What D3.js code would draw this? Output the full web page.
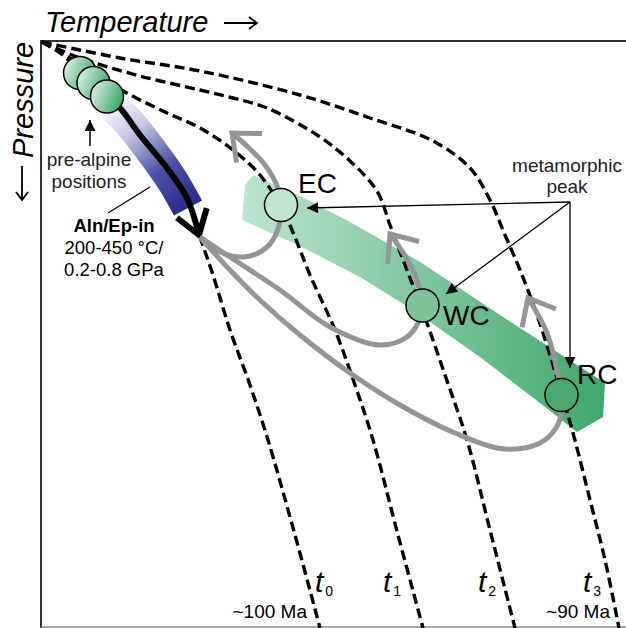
<!DOCTYPE html>
<html>
<head>
<meta charset="utf-8">
<script src="https://cdn.jsdelivr.net/npm/d3@7"></script>
<style>
body { margin: 0; background: #fff; }
svg { display: block; font-family: "Liberation Sans", Arial, sans-serif; }
</style>
</head>
<body>
<svg id="chart" width="626" height="628"></svg>
<script>
// schematic P-T space, arbitrary units: T to the right, P downwards, 0 = top-left corner
const isoNames = ['0', '1', '2', '3']
const isoT0 = [[0.2,0.2],[3.8,2.4],[7.8,6],[10.4,8.4],[13.2,11],[15.8,13.4],[19.8,18.8],[25.2,25.4],[29.2,31.4],[31.8,39.2],[34.4,46.8],[37.8,57.8],[41.8,68.8],[45.4,79.8],[50.8,98.8],[55.8,117.4]]
const isoT1 = [[0.2,0.2],[3.8,2.2],[9.8,5.8],[16.8,10.2],[24.8,14.2],[31.8,17.4],[38.4,21.8],[43.8,26.8],[47.8,32.8],[50.2,37.8],[53.8,46.8],[58.8,57.8],[62.8,68.8],[66.4,79.8],[71.4,98.8],[76.4,117.4]]
const isoT2 = [[0.2,0.2],[7.8,3.4],[19.8,7],[31.8,9.8],[38.4,11.4],[45.2,13.4],[55.2,18.8],[61.8,24],[67.2,30],[69.8,36.8],[72.8,44.8],[76.4,54.2],[80.8,66.8],[85.2,79.8],[89.8,97.8],[94.8,117.4]]
const isoT3 = [[0.2,0.2],[15.8,3.4],[31.8,6],[51.8,10.8],[65.8,15.4],[78.4,20],[85.8,25.4],[89.8,31.8],[92.8,38.8],[95.8,45.8],[99.2,54.8],[102.4,64.8],[106.4,78.4],[109.8,91.8],[112.8,103.8],[115.6,117.4]]
const isoLabelT = [54.8, 68.4, 87.4, 108.4]
const isoLabelP = 110.2
const ageLabels = ['~100 Ma', '~90 Ma']
const ageT = [53.2, 113.8]
const ageP = 115.4

// pre-alpine positions and Aln/Ep-in field
const preAlpine = [[7.8,6.4],[10.5,8.4],[13.2,11.1]]
const alnBand = [[13.4,12],[18.2,17],[22.4,22.4],[26.2,27.8],[29.4,33.4]]
const burialPath = [[13.8,11.8],[15.8,13.4],[19.8,18.8],[25.2,25.4],[29.2,31.4],[31.6,38.8]]
const alnText = ['Aln/Ep-in', '200-450 °C/', '0.2-0.8 GPa']
const alnTextPos = [[14.6,38.2],[14.6,42.6],[14.6,47]]

// metamorphic peak field and P-T loops
const peakField = [[42.4,26.8],[51.8,31],[61.8,36.2],[75.8,44.2],[91.8,54.8],[112.8,68.4],[112.4,75.2],[107.2,78.2],[99.8,72.4],[87.8,63.2],[74.4,53.8],[63.8,47.2],[51.8,41],[40.2,35.8],[40.8,28.8]]
const units = ['EC', 'WC', 'RC']
const peaks = [[48,32.8],[76.3,52.9],[104.1,70.8]]
const unitLabelPos = [[51.4,30.4],[80.4,56.8],[107.2,68.6]]
const loopEC = [[31.8,39.2],[36.8,42.6],[41.8,43],[45.8,40.6],[47.8,36.2],[48,32.8],[47.4,29.4],[44.8,24.8],[41.4,21.2],[38.2,18.4]]
const loopWC = [[31.8,39.2],[37.8,43.2],[47.8,49.8],[57.8,57.2],[67.8,60.8],[73.2,59.2],[75.4,56.4],[76.4,53],[75.8,49.8],[74.2,45.4],[71.8,41.4],[69.8,38.6]]
const loopRC = [[31.8,39.2],[37.4,45.4],[44.2,52.2],[51.8,58.8],[61.8,66.4],[71.8,72.8],[82.8,78.4],[92.8,81.6],[99.8,80.4],[103,77.4],[104.2,73.8],[104.2,70.8],[103.4,66.8],[101.2,58.4],[97.4,51.4]]
const peakNote = [105.8, 32.2]
const peakNoteTips = [[53.2,33.4],[81,50.6],[105.8,65.4]]

const svg = d3.select('#chart')
const x = d3.scaleLinear().domain([0, 117]).range([41, 626])
const y = d3.scaleLinear().domain([0, 117.2]).range([41, 627])
const line = d3.line().x(d => x(d[0])).y(d => y(d[1])).curve(d3.curveCatmullRom.alpha(0.5))
const gray = '#939598'

const defs = svg.append('defs')
const gBand = defs.append('linearGradient').attr('id', 'gband')
    .attr('gradientUnits', 'userSpaceOnUse')
    .attr('x1', x(40)).attr('y1', 0).attr('x2', x(113)).attr('y2', 0)
gBand.append('stop').attr('offset', 0).attr('stop-color', '#bde5cf')
gBand.append('stop').attr('offset', 1).attr('stop-color', '#3fa76c')
const bBand = defs.append('linearGradient').attr('id', 'bband')
    .attr('gradientUnits', 'userSpaceOnUse')
    .attr('x1', x(alnBand[0][0])).attr('y1', y(alnBand[0][1]))
    .attr('x2', x(alnBand[4][0])).attr('y2', y(alnBand[4][1]))
bBand.append('stop').attr('offset', 0).attr('stop-color', '#ffffff')
bBand.append('stop').attr('offset', 0.3).attr('stop-color', '#c3c5e3')
bBand.append('stop').attr('offset', 0.65).attr('stop-color', '#4d51a8')
bBand.append('stop').attr('offset', 1).attr('stop-color', '#282c8b')
const cGrad = defs.append('linearGradient').attr('id', 'cgrad')
    .attr('x1', 0).attr('y1', 0.2).attr('x2', 1).attr('y2', 0.6)
cGrad.append('stop').attr('offset', 0).attr('stop-color', '#e2f3e7')
cGrad.append('stop').attr('offset', 1).attr('stop-color', '#36a567')
defs.append('marker').attr('id', 'tri')
    .attr('viewBox', '0 0 10 10').attr('refX', 10).attr('refY', 5)
    .attr('markerWidth', 14).attr('markerHeight', 11)
    .attr('markerUnits', 'userSpaceOnUse').attr('orient', 'auto')
    .append('path').attr('d', 'M0,0 L10,5 L0,10 Z').attr('fill', '#000')

// open chevron at the end of a path
function chevron(pts, len, half) {
    const a = pts[pts.length - 2], b = pts[pts.length - 1]
    const tx = x(b[0]), ty = y(b[1])
    const ang = Math.atan2(y(a[1]) - ty, x(a[0]) - tx)
    const h = half * Math.PI / 180
    return `M${tx + len * Math.cos(ang - h)},${ty + len * Math.sin(ang - h)}L${tx},${ty}L${tx + len * Math.cos(ang + h)},${ty + len * Math.sin(ang + h)}`
}

// frame
svg.append('line').attr('x1', 41).attr('x2', 626).attr('y1', 41).attr('y2', 41)
    .attr('stroke', '#333').attr('stroke-width', 2)
svg.append('line').attr('x1', 41).attr('x2', 41).attr('y1', 40).attr('y2', 628)
    .attr('stroke', '#333').attr('stroke-width', 2)
svg.append('line').attr('x1', 41).attr('x2', 626).attr('y1', 627).attr('y2', 627)
    .attr('stroke', '#8a8a8a').attr('stroke-width', 1.5)

// axis titles
svg.append('text').attr('x', 45).attr('y', 32)
    .attr('font-size', 29).attr('font-style', 'italic').text('Temperature')
svg.append('path').attr('d', 'M224,23H257M249,17L257,23L249,29')
    .attr('fill', 'none').attr('stroke', '#000').attr('stroke-width', 1.8)
svg.append('text').attr('transform', 'translate(33,158) rotate(-90)')
    .attr('font-size', 29).attr('font-style', 'italic').text('Pressure')
svg.append('path').attr('d', 'M22,166V200M16,192L22,200L28,192')
    .attr('fill', 'none').attr('stroke', '#000').attr('stroke-width', 1.8)

// peak field
svg.append('path').attr('d', 'M' + peakField.map(d => [x(d[0]), y(d[1])].join(',')).join('L') + 'Z')
    .attr('fill', 'url(#gband)')

// isochrons
svg.selectAll('.iso').data([isoT0, isoT1, isoT2, isoT3]).join('path')
    .attr('class', 'iso')
    .attr('d', line)
    .attr('fill', 'none').attr('stroke', '#000')
    .attr('stroke-width', 3.4).attr('stroke-dasharray', '10,5')

// Aln/Ep-in band and burial arrow
svg.append('path').attr('d', line(alnBand))
    .attr('fill', 'none').attr('stroke', 'url(#bband)').attr('stroke-width', 32)
svg.append('path').attr('d', line(burialPath.slice(0, -1).concat([[31.4, 38]])))
    .attr('fill', 'none').attr('stroke', '#000').attr('stroke-width', 6)
svg.append('path').attr('d', chevron(burialPath, 28, 34))
    .attr('fill', 'none').attr('stroke', '#000').attr('stroke-width', 6)

// exhumation loops
const loops = [loopEC, loopWC, loopRC]
svg.selectAll('.loop').data(loops).join('path')
    .attr('class', 'loop').attr('d', line)
    .attr('fill', 'none').attr('stroke', gray).attr('stroke-width', 5)
svg.selectAll('.head').data(loops).join('path')
    .attr('class', 'head').attr('d', d => chevron(d, 30, 40))
    .attr('fill', 'none').attr('stroke', gray).attr('stroke-width', 5)

// circles
svg.selectAll('.pre').data(preAlpine).join('circle')
    .attr('class', 'pre')
    .attr('cx', d => x(d[0])).attr('cy', d => y(d[1])).attr('r', 16.5)
    .attr('fill', 'url(#cgrad)').attr('stroke', '#000').attr('stroke-width', 1.5)
svg.selectAll('.peak').data(peaks).join('circle')
    .attr('class', 'peak')
    .attr('cx', d => x(d[0])).attr('cy', d => y(d[1])).attr('r', 16.5)
    .attr('fill', (d, i) => ['#c4e4d0', '#7fc198', '#48a972'][i])
    .attr('stroke', '#000').attr('stroke-width', 1.5)

// metamorphic peak pointers
svg.selectAll('.ptr').data(peakNoteTips).join('line')
    .attr('class', 'ptr')
    .attr('x1', x(peakNote[0])).attr('y1', y(peakNote[1]))
    .attr('x2', d => x(d[0])).attr('y2', d => y(d[1]))
    .attr('stroke', '#000').attr('stroke-width', 1.3).attr('marker-end', 'url(#tri)')
svg.append('text').attr('x', x(105.2)).attr('y', y(26.2))
    .attr('text-anchor', 'middle').attr('font-size', 19).attr('fill', '#222').text('metamorphic')
svg.append('text').attr('x', x(105.2)).attr('y', y(30.4))
    .attr('text-anchor', 'middle').attr('font-size', 19).attr('fill', '#222').text('peak')

// unit labels
svg.selectAll('.unit').data(units).join('text')
    .attr('class', 'unit')
    .attr('x', (d, i) => x(unitLabelPos[i][0])).attr('y', (d, i) => y(unitLabelPos[i][1]))
    .attr('font-size', 28).text(d => d)

// pre-alpine note
svg.append('path').attr('d', `M${x(9.8)},${y(21)}V${y(15.8)}`)
    .attr('stroke', '#000').attr('stroke-width', 1.5).attr('marker-end', 'url(#tri)')
svg.append('text').attr('x', x(9.6)).attr('y', y(25))
    .attr('text-anchor', 'middle').attr('font-size', 19).attr('fill', '#222').text('pre-alpine')
svg.append('text').attr('x', x(9.6)).attr('y', y(29.4))
    .attr('text-anchor', 'middle').attr('font-size', 19).attr('fill', '#222').text('positions')

// Aln/Ep-in note
svg.append('line').attr('x1', x(13.4)).attr('y1', y(34.4)).attr('x2', x(21.8)).attr('y2', y(29.2))
    .attr('stroke', '#000').attr('stroke-width', 1.2)
svg.selectAll('.aln').data(alnText).join('text')
    .attr('class', 'aln')
    .attr('x', (d, i) => x(alnTextPos[i][0])).attr('y', (d, i) => y(alnTextPos[i][1]))
    .attr('text-anchor', 'middle').attr('font-size', 18.5)
    .attr('font-weight', (d, i) => i === 0 ? 'bold' : 'normal')
    .text(d => d)

// isochron labels
const tl = svg.selectAll('.tl').data(isoNames).join('text')
    .attr('class', 'tl')
    .attr('x', (d, i) => x(isoLabelT[i])).attr('y', y(isoLabelP))
    .attr('font-size', 30).attr('font-style', 'italic')
tl.append('tspan').text('t')
tl.append('tspan').attr('font-size', 14).attr('font-style', 'normal')
    .attr('dx', 2).attr('dy', 4).text(d => d)
svg.selectAll('.age').data(ageLabels).join('text')
    .attr('class', 'age')
    .attr('x', (d, i) => x(ageT[i])).attr('y', y(ageP))
    .attr('text-anchor', 'end').attr('font-size', 19).text(d => d)
</script>
</body>
</html>
